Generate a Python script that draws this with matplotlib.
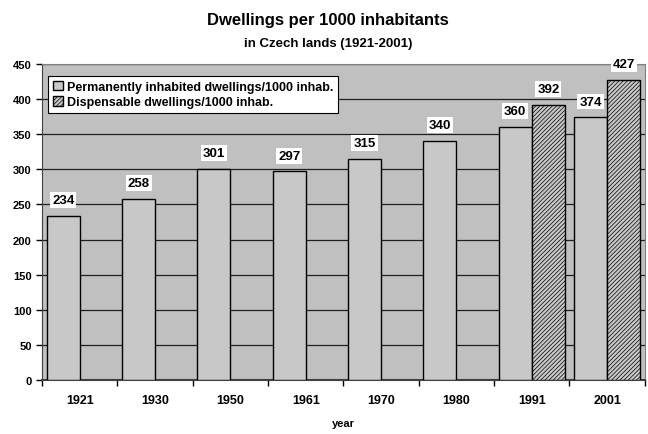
import matplotlib.pyplot as plt
import numpy as np

years = ["1921", "1930", "1950", "1961", "1970", "1980", "1991", "2001"]
permanent = [234, 258, 301, 297, 315, 340, 360, 374]
dispensable = [None, None, None, None, None, None, 392, 427]

plt.rcParams['font.family'] = ['Liberation Sans', 'DejaVu Sans']
plt.rcParams['hatch.color'] = '#606060'
plt.rcParams['hatch.linewidth'] = 0.5

fig = plt.figure(figsize=(6.48, 4.35), dpi=100)
ax = fig.add_axes([0.065, 0.124, 0.930, 0.727])
ax.set_facecolor('#c0c0c0')

x = np.arange(len(years))
w = 0.44
ax.bar(x - w / 2, permanent, w, color='#c8c8c8', edgecolor='black', lw=1,
       label='Permanently inhabited dwellings/1000 inhab.', zorder=3)
dx = np.array([i for i in x if dispensable[i] is not None])
dv = [dispensable[i] for i in dx]
ax.bar(dx + w / 2, dv, w, color='#c8c8c8', edgecolor='black', lw=1,
       hatch='////////', label='Dispensable dwellings/1000 inhab.', zorder=3)

box = dict(boxstyle='square,pad=0.15', fc='white', ec='none')
for xs, vs in [(x - w / 2, permanent), (dx + w / 2, dv)]:
    for xi, v in zip(xs, vs):
        ax.annotate(str(v), (xi, v), xytext=(0, 7), textcoords='offset points',
                    ha='center', va='bottom', fontsize=9.5, fontweight='bold',
                    bbox=box, zorder=5)

ax.set_xlim(-0.5, len(years) - 0.5)
ax.set_ylim(0, 450)
ax.set_yticks(range(0, 451, 50))
ax.yaxis.grid(True, color='#202020', lw=0.9, zorder=0)
ax.set_axisbelow(True)
ax.set_xticks(x)
ax.set_xticklabels(years, fontsize=9, fontweight='bold')
ax.set_xticks(np.arange(-0.5, len(years)), minor=True)
ax.tick_params(axis='x', which='major', length=0, pad=10)
ax.tick_params(axis='x', which='minor', length=4, width=1)
ax.tick_params(axis='y', labelsize=8, length=4, width=1)
for t in ax.get_yticklabels():
    t.set_fontweight('bold')
for s in ['top', 'right']:
    ax.spines[s].set_color('#808080')
for s in ['left', 'bottom']:
    ax.spines[s].set_color('#404040')
ax.spines['bottom'].set_linewidth(1.5)
ax.set_xlabel('year', fontsize=8, fontweight='bold', labelpad=9)

leg = ax.legend(loc='upper left', bbox_to_anchor=(0.01, 0.962), borderaxespad=0,
                frameon=True, fancybox=False, edgecolor='black', framealpha=1,
                handlelength=0.8, handleheight=0.8, handletextpad=0.3,
                borderpad=0.4, labelspacing=0.25, prop={'weight': 'bold', 'size': 9})
leg.get_frame().set_linewidth(0.8)
leg.set_zorder(6)

fig.text(0.506, 0.952, 'Dwellings per 1000 inhabitants', ha='center', va='center',
         fontsize=12, fontweight='bold')
fig.text(0.506, 0.898, 'in Czech lands (1921-2001)', ha='center', va='center',
         fontsize=9.5, fontweight='bold')

fig.savefig('out.png', dpi=100)
